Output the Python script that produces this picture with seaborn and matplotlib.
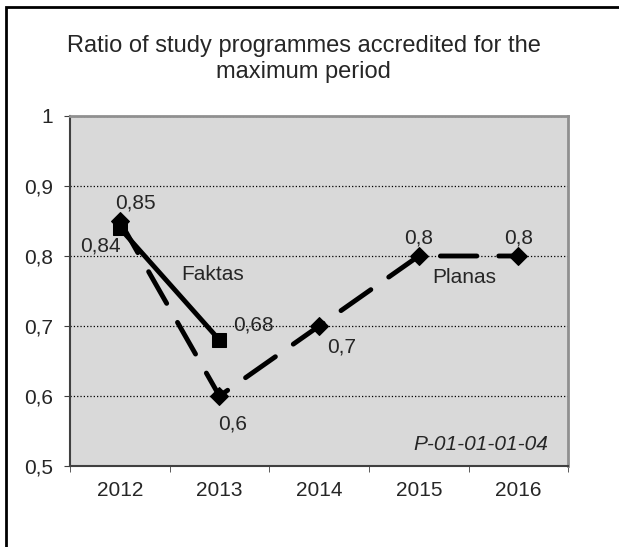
import matplotlib
matplotlib.use('Agg')
import matplotlib.pyplot as plt
import matplotlib.patches as mpatches
import seaborn as sns
import pandas as pd

years = ['2012', '2013', '2014', '2015', '2016']
plan_values = [0.85, 0.6, 0.7, 0.8, 0.8]
fact_years = ['2012', '2013']
fact_values = [0.84, 0.68]
plan_labels = ['0,85', '0,6', '0,7', '0,8', '0,8']
fact_labels = ['0,84', '0,68']

sns.set_style('white')
plt.rcParams['font.family'] = ['Liberation Sans', 'DejaVu Sans']
FS = 15

plan_df = pd.DataFrame({'x': range(len(years)), 'y': plan_values})
fact_df = pd.DataFrame({'x': [years.index(y) for y in fact_years], 'y': fact_values})

fig = plt.figure(figsize=(6.19, 5.47), dpi=100)
ax = fig.add_axes([0.113, 0.148, 0.805, 0.64])
ax.set_facecolor('#d9d9d9')

sns.lineplot(data=plan_df, x='x', y='y', ax=ax, color='black', linewidth=3.5,
             marker='D', markersize=9.5, markeredgecolor='black')
plan_line = ax.lines[-1]
plan_line.set_dashes((7.5, 4.5))
plan_line.set_dash_capstyle('round')
sns.lineplot(data=fact_df, x='x', y='y', ax=ax, color='black', linewidth=3.5,
             marker='s', markersize=10.5, markeredgecolor='black')

# data labels (offsets in points)
ax.annotate(plan_labels[0], (0, plan_values[0]), xytext=(-3, 6), textcoords='offset points',
            ha='left', va='bottom', fontsize=FS)
ax.annotate(plan_labels[1], (1, plan_values[1]), xytext=(-1, -13), textcoords='offset points',
            ha='left', va='top', fontsize=FS)
ax.annotate(plan_labels[2], (2, plan_values[2]), xytext=(6, -8), textcoords='offset points',
            ha='left', va='top', fontsize=FS)
ax.annotate(plan_labels[3], (3, plan_values[3]), xytext=(0, 6), textcoords='offset points',
            ha='center', va='bottom', fontsize=FS)
ax.annotate(plan_labels[4], (4, plan_values[4]), xytext=(0, 6), textcoords='offset points',
            ha='center', va='bottom', fontsize=FS)
ax.annotate(fact_labels[0], (0, fact_values[0]), xytext=(1, -6), textcoords='offset points',
            ha='right', va='top', fontsize=FS)
ax.annotate(fact_labels[1], (1, fact_values[1]), xytext=(10, 11), textcoords='offset points',
            ha='left', va='center', fontsize=FS)

ax.text(0.62, 0.773, 'Faktas', fontsize=FS, ha='left', va='center')
ax.text(3.14, 0.77, 'Planas', fontsize=FS, ha='left', va='center')
ax.text(4.30, 0.523, 'P-01-01-01-04', fontsize=FS, style='italic', ha='right', va='baseline')

ax.set_xlim(-0.5, 4.5)
ax.set_ylim(0.5, 1.0)
ax.set_yticks([0.5, 0.6, 0.7, 0.8, 0.9, 1.0])
ax.set_yticklabels(['0,5', '0,6', '0,7', '0,8', '0,9', '1'], fontsize=FS)
ax.set_xticks(range(len(years)))
ax.set_xticklabels(years, fontsize=FS)
ax.set_xticks([i - 0.5 for i in range(len(years) + 1)], minor=True)
ax.tick_params(axis='x', which='major', length=0, pad=11)
ax.tick_params(axis='x', which='minor', length=4, color='#404040', direction='out', bottom=True)
ax.tick_params(axis='y', length=4, color='#404040', direction='out', left=True, pad=8)
ax.yaxis.grid(True, linestyle=':', color='black', linewidth=0.9)
ax.set_axisbelow(True)
ax.set_xlabel('')
ax.set_ylabel('')
for side in ['left', 'bottom']:
    ax.spines[side].set_color('#404040')
    ax.spines[side].set_linewidth(1.5)
for side in ['right', 'top']:
    ax.spines[side].set_color('#909090')
    ax.spines[side].set_linewidth(2)

fig.text(0.491, 1 - 52 / 547, 'Ratio of study programmes accredited for the',
         ha='center', va='baseline', fontsize=17)
fig.text(0.491, 1 - 78 / 547, 'maximum period',
         ha='center', va='baseline', fontsize=17)

# outer chart frame (right and bottom edges fall outside the image)
fig.patches.append(mpatches.Rectangle((6 / 619, -0.05), 1.1, 1.05 - 7 / 547,
                                      transform=fig.transFigure, fill=False,
                                      edgecolor='black', linewidth=2))

fig.savefig('out.png', dpi=100)
